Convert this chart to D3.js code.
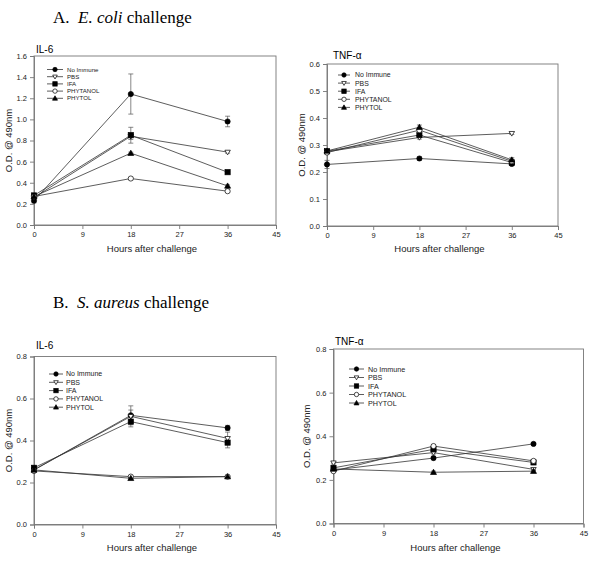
<!DOCTYPE html>
<html><head><meta charset="utf-8">
<script src="https://cdn.jsdelivr.net/npm/d3@7"></script>
<style>body{margin:0;background:#fff}svg{display:block}</style>
</head><body><svg id="c" width="600" height="570"></svg>
<script>
// ---------- data ----------
const hours = [0, 18, 36];
const xTicks = [0, 9, 18, 27, 36, 45];
const seriesNames = ["No Immune", "PBS", "IFA", "PHYTANOL", "PHYTOL"];
const seriesMarkers = ["circleFilled", "triDownOpen", "squareFilled", "circleOpen", "triUpFilled"];

// A. E. coli, IL-6
const ecoliIL6 = [
  [0.23, 1.24, 0.98],
  [0.26, 0.84, 0.69],
  [0.28, 0.85, 0.50],
  [0.27, 0.44, 0.32],
  [0.27, 0.68, 0.37]
];
const ecoliIL6Err = [
  [0.02, 0.19, 0.05],
  [0.01, 0.03, 0.01],
  [0.01, 0.075, 0.01],
  [0.01, 0.01, 0.01],
  [0.01, 0.01, 0.01]
];
const ecoliIL6Ticks = [0, 0.2, 0.4, 0.6, 0.8, 1.0, 1.2, 1.4, 1.6];

// A. E. coli, TNF-alpha
const ecoliTNF = [
  [0.228, 0.250, 0.230],
  [0.275, 0.328, 0.343],
  [0.277, 0.337, 0.235],
  [0.272, 0.355, 0.240],
  [0.278, 0.366, 0.245]
];
const ecoliTNFErr = [
  [0.015, 0.006, 0.006],
  [0.004, 0.006, 0.004],
  [0.004, 0.006, 0.006],
  [0.004, 0.006, 0.006],
  [0.004, 0.008, 0.008]
];
const ecoliTNFTicks = [0, 0.1, 0.2, 0.3, 0.4, 0.5, 0.6];

// B. S. aureus, IL-6
const aureusIL6 = [
  [0.26, 0.52, 0.46],
  [0.26, 0.515, 0.41],
  [0.27, 0.49, 0.39],
  [0.255, 0.228, 0.228],
  [0.26, 0.22, 0.228]
];
const aureusIL6Err = [
  [0.01, 0.045, 0.012],
  [0.01, 0.03, 0.03],
  [0.01, 0.025, 0.025],
  [0.005, 0.005, 0.005],
  [0.005, 0.005, 0.005]
];
const aureusIL6Ticks = [0, 0.2, 0.4, 0.6, 0.8];

// B. S. aureus, TNF-alpha
const aureusTNF = [
  [0.245, 0.300, 0.365],
  [0.278, 0.325, 0.248],
  [0.255, 0.340, 0.280],
  [0.240, 0.355, 0.287],
  [0.250, 0.235, 0.240]
];
const aureusTNFErr = [
  [0.006, 0.008, 0.006],
  [0.005, 0.006, 0.005],
  [0.005, 0.006, 0.005],
  [0.005, 0.006, 0.005],
  [0.005, 0.005, 0.005]
];
const aureusTNFTicks = [0, 0.2, 0.4, 0.6, 0.8];

// ---------- drawing ----------
const svg = d3.select("#c");
const SANS = "'Liberation Sans', Arial, sans-serif";
const SERIF = "'Liberation Serif', 'Times New Roman', serif";
const fmt1 = d3.format(".1f");

function heading(x, y, letter, species) {
  const t = svg.append("text").attr("x", x).attr("y", y)
    .attr("font-family", SERIF).attr("font-size", 17).attr("fill", "#000");
  t.append("tspan").text(letter + "\u00a0\u00a0");
  t.append("tspan").attr("font-style", "italic").text(species);
  t.append("tspan").text(" challenge");
}
heading(53, 23, "A.", "E. coli");
heading(53, 308, "B.", "S. aureus");

function marker(g, type, cx, cy, r) {
  const filled = type.endsWith("Filled");
  const fill = filled ? "#000" : "#fff";
  let el;
  if (type.startsWith("circle")) {
    el = g.append("circle").attr("cx", cx).attr("cy", cy).attr("r", r);
  } else if (type.startsWith("square")) {
    el = g.append("rect").attr("x", cx - r).attr("y", cy - r).attr("width", 2 * r).attr("height", 2 * r);
  } else if (type.startsWith("triDown")) {
    const s = r * 1.05;
    el = g.append("path").attr("d", `M${cx - s},${cy - s * 0.7}L${cx + s},${cy - s * 0.7}L${cx},${cy + s}Z`);
  } else {
    const s = r * 1.15;
    el = g.append("path").attr("d", `M${cx - s},${cy + s * 0.75}L${cx + s},${cy + s * 0.75}L${cx},${cy - s}Z`);
  }
  el.attr("fill", fill).attr("stroke", "#000").attr("stroke-width", 0.7);
}

function panel(cfg) {
  const { left, right, top, bottom, values, errs, yTicks, yMax, title, tickFmt, legend, xTitleY, yTitleX, titleX, titleY, legRows, legFont } = cfg;
  const g = svg.append("g");
  const x = d3.scaleLinear().domain([0, 45]).range([left, right]);
  const y = d3.scaleLinear().domain([0, yMax]).range([bottom, top]);

  // frame
  g.append("rect").attr("x", left).attr("y", top).attr("width", right - left).attr("height", bottom - top)
    .attr("fill", "none").attr("stroke", "#777").attr("stroke-width", 0.9);

  const xa = g.append("g").attr("transform", `translate(0,${bottom})`)
    .call(d3.axisBottom(x).tickValues(xTicks).tickSize(4).tickPadding(3).tickFormat(d3.format("d")));
  const ya = g.append("g").attr("transform", `translate(${left},0)`)
    .call(d3.axisLeft(y).tickValues(yTicks).tickSize(4).tickPadding(3).tickFormat(tickFmt));
  [xa, ya].forEach(a => {
    a.select(".domain").attr("stroke", "#777").attr("stroke-width", 0.9);
    a.selectAll(".tick line").attr("stroke", "#777").attr("stroke-width", 0.9);
    a.selectAll("text").attr("font-family", SANS).attr("font-size", 7.5).attr("fill", "#222");
  });

  g.append("text").attr("x", (left + right) / 2 - 3).attr("y", xTitleY).attr("text-anchor", "middle")
    .attr("font-family", SANS).attr("font-size", 9.5).attr("fill", "#222").text("Hours after challenge");
  g.append("text").attr("transform", `translate(${yTitleX},${(top + bottom) / 2}) rotate(-90)`)
    .attr("text-anchor", "middle").attr("font-family", SANS).attr("font-size", 9.5).attr("fill", "#222")
    .text("O.D. @ 490nm");
  g.append("text").attr("x", titleX).attr("y", titleY)
    .attr("font-family", SANS).attr("font-size", 10).attr("fill", "#000").text(title);

  const line = d3.line().x((d, i) => x(hours[i])).y(d => y(d));
  values.forEach((vals, s) => {
    g.append("path").attr("d", line(vals)).attr("fill", "none").attr("stroke", "#333").attr("stroke-width", 0.8);
  });
  // error bars
  values.forEach((vals, s) => {
    vals.forEach((v, i) => {
      const e = errs[s][i];
      const cx = x(hours[i]);
      g.append("line").attr("x1", cx).attr("x2", cx).attr("y1", y(v - e)).attr("y2", y(v + e))
        .attr("stroke", "#555").attr("stroke-width", 0.7);
      [v - e, v + e].forEach(w => g.append("line").attr("x1", cx - 2.5).attr("x2", cx + 2.5)
        .attr("y1", y(w)).attr("y2", y(w)).attr("stroke", "#555").attr("stroke-width", 0.7));
    });
  });
  values.forEach((vals, s) => {
    vals.forEach((v, i) => marker(g, seriesMarkers[s], x(hours[i]), y(v), 2.6));
  });

  // legend
  seriesNames.forEach((name, s) => {
    const ly = legRows[0] + s * legRows[1];
    g.append("line").attr("x1", legend[0]).attr("x2", legend[1]).attr("y1", ly).attr("y2", ly)
      .attr("stroke", "#333").attr("stroke-width", 0.8);
    marker(g, seriesMarkers[s], (legend[0] + legend[1]) / 2, ly, 2.2);
    g.append("text").attr("x", legend[2]).attr("y", ly).attr("dy", "0.35em")
      .attr("font-family", SANS).attr("font-size", legFont).attr("fill", "#222").text(name);
  });
}

panel({ left: 34, right: 276, top: 56, bottom: 225, values: ecoliIL6, errs: ecoliIL6Err, yTicks: ecoliIL6Ticks, yMax: 1.6,
  title: "IL-6", tickFmt: fmt1, legend: [47, 63, 67], legRows: [69.5, 7.2], legFont: 6.1, xTitleY: 252, yTitleX: 12, titleX: 36, titleY: 53 });
panel({ left: 327, right: 558, top: 64, bottom: 226, values: ecoliTNF, errs: ecoliTNFErr, yTicks: ecoliTNFTicks, yMax: 0.6,
  title: "TNF-\u03b1", tickFmt: fmt1, legend: [338, 350, 355], legRows: [75, 8.1], legFont: 6.9, xTitleY: 252, yTitleX: 305, titleX: 333, titleY: 59 });
panel({ left: 34, right: 276, top: 356.5, bottom: 524.5, values: aureusIL6, errs: aureusIL6Err, yTicks: aureusIL6Ticks, yMax: 0.8,
  title: "IL-6", tickFmt: fmt1, legend: [49, 63, 66], legRows: [374, 8.3], legFont: 7, xTitleY: 551, yTitleX: 12, titleX: 36, titleY: 349 });
panel({ left: 333.5, right: 583.5, top: 349, bottom: 523.5, values: aureusTNF, errs: aureusTNFErr, yTicks: aureusTNFTicks, yMax: 0.8,
  title: "TNF-\u03b1", tickFmt: fmt1, legend: [349, 364, 368], legRows: [369, 8.5], legFont: 7.2, xTitleY: 551, yTitleX: 310, titleX: 335, titleY: 345 });
</script></body></html>
